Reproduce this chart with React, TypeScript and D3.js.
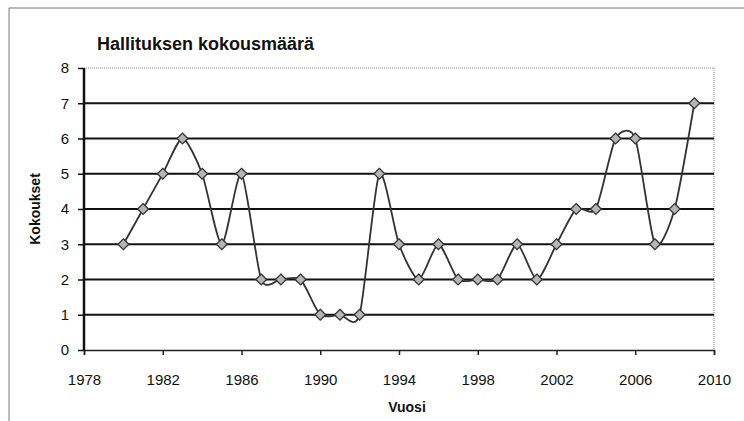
import { useEffect, useRef } from 'react';
import * as d3 from 'd3';

const years = [1980, 1981, 1982, 1983, 1984, 1985, 1986, 1987, 1988, 1989, 1990, 1991, 1992, 1993, 1994,
  1995, 1996, 1997, 1998, 1999, 2000, 2001, 2002, 2003, 2004, 2005, 2006, 2007, 2008, 2009];
const meetings = [3, 4, 5, 6, 5, 3, 5, 2, 2, 2, 1, 1, 1, 5, 3, 2, 3, 2, 2, 2, 3, 2, 3, 4, 4, 6, 6, 3, 4, 7];
const xTicks = [1978, 1982, 1986, 1990, 1994, 1998, 2002, 2006, 2010];
const yTicks = [0, 1, 2, 3, 4, 5, 6, 7, 8];

const W = 744;
const H = 421;

const App = () => {
  const svgRef = useRef<SVGSVGElement>(null);

  useEffect(() => {
    if (!svgRef.current) return;
    const svg = d3.select(svgRef.current);
    svg.selectAll('*').remove();

    const margin = { top: 68, right: 30, bottom: 71, left: 84 };
    const width = W - margin.left - margin.right;
    const height = H - margin.top - margin.bottom;
    const font = '"Liberation Sans", Arial, sans-serif';

    svg.append('rect')
      .attr('width', W).attr('height', H).attr('fill', '#fff');

    // outer chart border (scanned page edge)
    svg.append('path')
      .attr('d', `M9,${H} V8 H${W}`)
      .attr('fill', 'none')
      .attr('stroke', '#777')
      .attr('stroke-width', 1);

    svg.append('text')
      .attr('x', 97).attr('y', 50)
      .style('font-family', font)
      .style('font-size', '18px')
      .style('font-weight', 'bold')
      .style('fill', '#111')
      .text('Hallituksen kokousmäärä');

    const g = svg.append('g').attr('transform', `translate(${margin.left},${margin.top})`);

    const x = d3.scaleLinear().domain([1978, 2010]).range([0, width]);
    const y = d3.scaleLinear().domain([0, 8]).range([height, 0]);

    // plot area border (dotted top/right)
    g.append('path')
      .attr('d', `M0,${y(8)} H${width} V${height}`)
      .attr('fill', 'none')
      .attr('stroke', '#888')
      .attr('stroke-width', 1)
      .attr('stroke-dasharray', '1,1');

    // gridlines
    g.selectAll('line.grid')
      .data(yTicks.filter(t => t > 0 && t < 8))
      .enter()
      .append('line')
      .attr('class', 'grid')
      .attr('x1', 0).attr('x2', width)
      .attr('y1', d => y(d)).attr('y2', d => y(d))
      .attr('stroke', '#111')
      .attr('stroke-width', 2);

    // x axis
    const xAxis = g.append('g')
      .attr('transform', `translate(0,${height})`)
      .call(d3.axisBottom(x).tickValues(xTicks).tickFormat(d3.format('d')).tickSize(5).tickPadding(19));
    xAxis.select('.domain').attr('stroke', '#222').attr('stroke-width', 1.5);
    xAxis.selectAll('.tick line').attr('stroke', '#222').attr('stroke-width', 1.5);
    xAxis.selectAll('.tick text')
      .style('font-family', font).style('font-size', '15px').style('fill', '#111');

    // y axis
    const yAxis = g.append('g')
      .call(d3.axisLeft(y).tickValues(yTicks).tickFormat(d3.format('d')).tickSize(6).tickPadding(9));
    yAxis.select('.domain').attr('stroke', '#111').attr('stroke-width', 2.5)
      .attr('d', `M0,${height}V${y(8)}`);
    yAxis.selectAll('.tick line').attr('stroke', '#111').attr('stroke-width', 1.5);
    yAxis.selectAll('.tick text')
      .style('font-family', font).style('font-size', '15px').style('fill', '#111');

    // axis titles
    svg.append('text')
      .attr('x', margin.left + width / 2 + 8).attr('y', 412)
      .attr('text-anchor', 'middle')
      .style('font-family', font).style('font-size', '14px').style('font-weight', 'bold').style('fill', '#111')
      .text('Vuosi');

    svg.append('text')
      .attr('transform', 'rotate(-90)')
      .attr('x', -(margin.top + height / 2)).attr('y', 40)
      .attr('text-anchor', 'middle')
      .style('font-family', font).style('font-size', '14px').style('font-weight', 'bold').style('fill', '#111')
      .text('Kokoukset');

    const data = years.map((yr, i) => ({ yr, v: meetings[i] }));

    const line = d3.line<{ yr: number; v: number }>()
      .x(d => x(d.yr))
      .y(d => y(d.v))
      .curve(d3.curveCardinal.tension(0.3));

    g.append('path')
      .datum(data)
      .attr('d', line)
      .attr('fill', 'none')
      .attr('stroke', '#333')
      .attr('stroke-width', 1.8);

    const sym = d3.symbol().type(d3.symbolDiamond2).size(75);
    g.selectAll('path.marker')
      .data(data)
      .enter()
      .append('path')
      .attr('class', 'marker')
      .attr('transform', d => `translate(${x(d.yr)},${y(d.v)})`)
      .attr('d', sym)
      .attr('fill', '#b5b5b5')
      .attr('stroke', '#333')
      .attr('stroke-width', 1.3);
  }, []);

  return (
    <svg ref={svgRef} width={W} height={H}
      style={{ position: 'absolute', left: 0, top: 0, background: '#fff' }} />
  );
};

export default App;
